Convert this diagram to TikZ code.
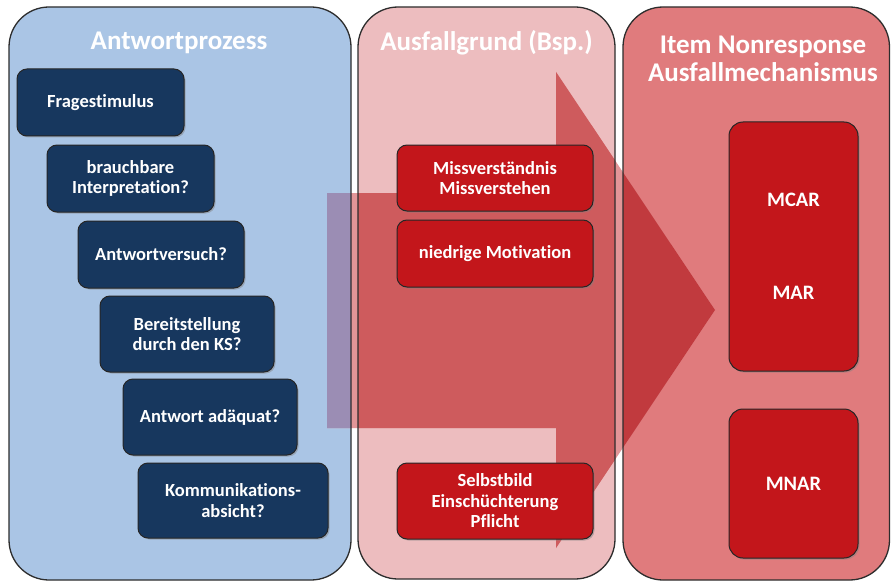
\documentclass[tikz,border=0pt]{standalone}
\usepackage{fontspec}
\setmainfont{Carlito}[Ligatures=NoCommon]
\usetikzlibrary{shadows}

\definecolor{panelblue}{RGB}{170,197,229}
\definecolor{panelpink}{RGB}{237,189,191}
\definecolor{panelred}{RGB}{224,123,125}
\definecolor{arrowblue}{RGB}{155,141,180}
\definecolor{arrowpink}{RGB}{206,91,93}
\definecolor{arrowred}{RGB}{193,58,62}
\definecolor{arrowgap}{RGB}{226,150,152}
\definecolor{navy}{RGB}{23,55,94}
\definecolor{boxred}{RGB}{195,22,27}
\definecolor{edgegray}{RGB}{45,45,45}

\tikzset{
  panel/.style={rectangle, rounded corners=40pt, inner sep=0pt, outer sep=0pt},
  panelline/.style={draw=edgegray, line width=1.3pt, rounded corners=40pt},
  paneltitle/.style={text=white, align=center,
    font=\fontsize{27}{28}\selectfont\bfseries},
  stepbox/.style={rectangle, rounded corners=10pt, draw=black!85,
    line width=1pt, text=white, align=center, inner sep=0pt,
    font=\fontsize{18.5}{20.5}\selectfont\bfseries,
    drop shadow={opacity=0.45, shadow xshift=1.5pt, shadow yshift=-1.5pt}},
  navybox/.style={stepbox, fill=navy},
  causebox/.style={stepbox, fill=boxred},
  mechbox/.style={stepbox, fill=boxred, rounded corners=14pt,
    font=\fontsize{20.5}{22}\selectfont\bfseries}
}

\begin{document}
\begin{tikzpicture}[x=1pt, y=-1pt]
\useasboundingbox (0,0) rectangle (891,583);
\fill[white] (0,0) rectangle (891,583);

% three column panels
\node[panel, fill=panelblue, minimum width=342pt, minimum height=573pt] (colA) at (180,293.5) {};
\node[panel, fill=panelpink, minimum width=257pt, minimum height=572pt] (colB) at (486.5,293) {};
\node[panel, fill=panelred, minimum width=266.5pt, minimum height=573pt] (colC) at (756.25,293.5) {};

% large translucent arrow running across the panels
\begin{scope}
  \clip (327,193) -- (556,193) -- (556,72) -- (715,310) -- (556,548)
        -- (556,428) -- (327,428) -- cycle;
  \fill[arrowgap] (320,60) rectangle (720,560);
  \fill[arrowblue, rounded corners=40pt] (colA.north west) rectangle (colA.south east);
  \fill[arrowpink, rounded corners=40pt] (colB.north west) rectangle (colB.south east);
  \fill[arrowred, rounded corners=40pt] (colC.north west) rectangle (colC.south east);
\end{scope}

% panel outlines
\draw[panelline] (colA.north west) rectangle (colA.south east);
\draw[panelline] (colB.north west) rectangle (colB.south east);
\draw[panelline] (colC.north west) rectangle (colC.south east);

% titles
\node[paneltitle] (titleA) at (179,43) {Antwortprozess};
\node[paneltitle] (titleB) at (486.5,43) {Ausfallgrund (Bsp.)};
\node[paneltitle] (titleC) at (763,59) {Item Nonresponse\\Ausfallmechanismus};

% response process steps
\node[navybox, minimum width=167pt, minimum height=67pt] (s1) at (100.5,102.5) {Fragestimulus};
\node[navybox, minimum width=167pt, minimum height=67pt] (s2) at (130.5,178.5) {brauchbare\\Interpretation?};
\node[navybox, minimum width=166pt, minimum height=67pt] (s3) at (161,254.5) {Antwortversuch?};
\node[navybox, minimum width=174pt, minimum height=76pt] (s4) at (187,334) {Bereitstellung\\durch den KS?};
\node[navybox, minimum width=174pt, minimum height=76pt] (s5) at (210,417) {Antwort adäquat?};
\node[navybox, minimum width=190pt, minimum height=75pt] (s6) at (233,500.5) {Kommunikations-\\absicht?};

% example causes
\node[causebox, minimum width=196pt, minimum height=66pt] (c1) at (495,178) {Missverständnis\\Missverstehen};
\node[causebox, minimum width=196pt, minimum height=67pt] (c2) at (495,253.5) {niedrige Motivation};
\node[causebox, minimum width=196pt, minimum height=76pt] (c3) at (495,501) {Selbstbild\\Einschüchterung\\Pflicht};

% missingness mechanisms
\node[mechbox, minimum width=129pt, minimum height=249pt] (m1) at (793.5,246.5) {MCAR\\[71pt]MAR};
\node[mechbox, minimum width=129pt, minimum height=149pt] (m2) at (793.5,483.5) {MNAR};
\end{tikzpicture}
\end{document}
